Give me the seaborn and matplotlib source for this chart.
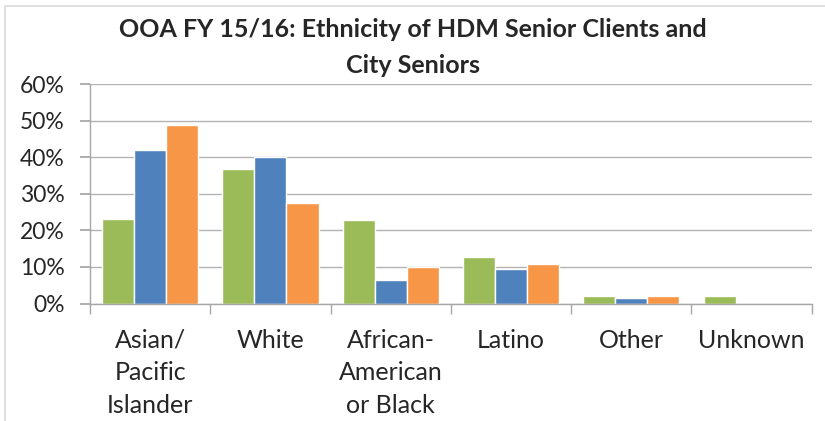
import pandas as pd
import matplotlib.pyplot as plt
import seaborn as sns
from matplotlib.patches import Rectangle
from matplotlib.ticker import PercentFormatter

categories = ["Asian/\nPacific\nIslander", "White", "African-\nAmerican\nor Black",
              "Latino", "Other", "Unknown"]
series_names = ["HDM Senior Clients", "OOA Clients", "City Seniors"]
hdm_clients = [0.23, 0.368, 0.229, 0.127, 0.020, 0.020]
ooa_clients = [0.42, 0.400, 0.064, 0.095, 0.015, 0.0]
city_seniors = [0.489, 0.275, 0.101, 0.108, 0.020, 0.0]
colors = ["#9BBB59", "#4F81BD", "#F79646"]

rows = []
for name, vals in zip(series_names, [hdm_clients, ooa_clients, city_seniors]):
    for cat, v in zip(categories, vals):
        rows.append({"Ethnicity": cat, "Group": name, "Share": v})
df = pd.DataFrame(rows)

sns.set_theme(style="white")
plt.rcParams["font.family"] = ["Lato", "DejaVu Sans"]

fig = plt.figure(figsize=(8.25, 4.21), dpi=100)
ax = fig.add_axes([0.109, 0.279, 0.875, 0.521])

sns.barplot(data=df, x="Ethnicity", y="Share", hue="Group", palette=colors,
            saturation=1, width=0.8, edgecolor="white", linewidth=1,
            legend=False, ax=ax)

ax.set_ylim(0, 0.6)
ax.set_xlim(-0.5, len(categories) - 0.5)
ax.set_yticks([0, 0.1, 0.2, 0.3, 0.4, 0.5, 0.6])
ax.yaxis.set_major_formatter(PercentFormatter(1.0, decimals=0))
ax.yaxis.grid(True, color="#B3B3B3", linewidth=1)
ax.set_axisbelow(True)
ax.set_xlabel("")
ax.set_ylabel("")

for side in ["top", "right"]:
    ax.spines[side].set_visible(False)
for side in ["left", "bottom"]:
    ax.spines[side].set_color("#A6A6A6")
    ax.spines[side].set_linewidth(1)

ax.tick_params(axis="y", which="major", length=7, color="#A6A6A6",
               labelsize=16.5, pad=11, direction="out", left=True)
ax.tick_params(axis="x", which="major", length=0, labelsize=18, pad=18)
ax.set_xticks([i - 0.5 for i in range(len(categories) + 1)], minor=True)
ax.tick_params(axis="x", which="minor", length=7, color="#A6A6A6",
               direction="out", bottom=True)
for lbl in ax.get_xticklabels():
    lbl.set_linespacing(1.5)
    lbl.set_verticalalignment("top")

fig.text(0.5, 0.93, "OOA FY 15/16: Ethnicity of HDM Senior Clients and",
         ha="center", va="center", fontsize=18, fontweight="bold")
fig.text(0.5, 0.845, "City Seniors", ha="center", va="center",
         fontsize=18, fontweight="bold")

fig.patches.append(Rectangle((0.006, -0.05), 1.2, 1.036, transform=fig.transFigure,
                             fill=False, edgecolor="#D9D9D9", linewidth=1.2))

fig.savefig("out.png", dpi=100)
